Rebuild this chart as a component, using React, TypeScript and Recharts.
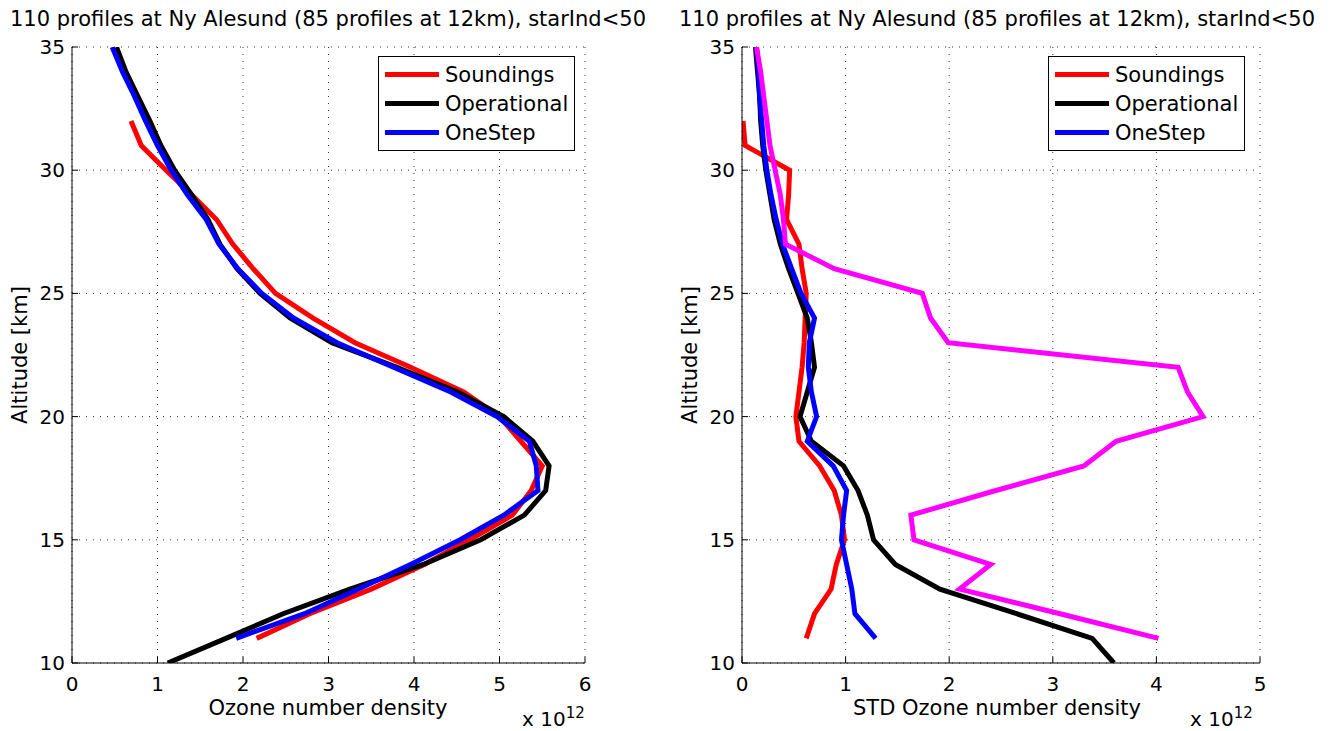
import React from "react";
import { LineChart, Line, XAxis, YAxis, CartesianGrid, Legend } from "recharts";

// altitude levels in km, top to bottom
const altitudes = [35, 34, 33, 32, 31, 30, 29, 28, 27, 26, 25, 24, 23, 22, 21, 20, 19, 18, 17, 16, 15, 14, 13, 12, 11, 10];

// left panel: mean ozone number density (x 10^12)
const soundingsMean = [null, null, null, 0.69, 0.81, 1.10, 1.40, 1.69, 1.88, 2.12, 2.38, 2.82, 3.31, 3.96, 4.58, 5.00, 5.25, 5.50, 5.37, 5.15, 4.65, 4.12, 3.50, 2.78, 2.16, null];
const operationalMean = [0.52, 0.63, 0.77, 0.91, 1.04, 1.20, 1.40, 1.59, 1.73, 1.93, 2.20, 2.55, 3.04, 3.80, 4.51, 5.05, 5.39, 5.58, 5.54, 5.29, 4.78, 4.11, 3.25, 2.47, 1.80, 1.12];
const oneStepMean = [0.47, 0.59, 0.73, 0.86, 1.00, 1.16, 1.35, 1.57, 1.72, 1.94, 2.22, 2.59, 3.10, 3.76, 4.43, 4.97, 5.35, 5.43, 5.45, 5.05, 4.54, 3.96, 3.35, 2.72, 1.92, null];

// right panel: STD of ozone number density (x 10^12)
const soundingsStd = [null, null, null, 0.01, 0.03, 0.46, 0.45, 0.43, 0.55, 0.58, 0.62, 0.61, 0.60, 0.58, 0.55, 0.52, 0.55, 0.75, 0.89, 0.96, 0.99, 0.91, 0.86, 0.70, 0.62, null];
const operationalStd = [0.13, 0.15, 0.17, 0.18, 0.20, 0.23, 0.27, 0.31, 0.37, 0.45, 0.54, 0.63, 0.67, 0.70, 0.63, 0.56, 0.67, 0.98, 1.12, 1.21, 1.27, 1.48, 1.91, 2.65, 3.38, 3.59];
const oneStepStd = [0.14, 0.16, 0.17, 0.19, 0.21, 0.24, 0.28, 0.33, 0.39, 0.48, 0.57, 0.70, 0.65, 0.64, 0.67, 0.72, 0.63, 0.88, 1.01, 0.98, 0.96, 1.01, 1.06, 1.09, 1.29, null];
const aprioriStd = [0.14, 0.18, 0.21, 0.24, 0.27, 0.32, 0.37, 0.40, 0.42, 0.89, 1.74, 1.82, 1.99, 4.21, 4.30, 4.45, 3.61, 3.30, 2.45, 1.63, 1.66, 2.40, 2.10, 3.07, 4.02, null];

const altTicks = [10, 15, 20, 25, 30, 35];
const leftTicks = [0, 1, 2, 3, 4, 5, 6];
const rightTicks = [0, 1, 2, 3, 4, 5];
const legendOrder = ["Soundings", "Operational", "OneStep"];

const title = "110 profiles at Ny Alesund (85 profiles at 12km), starInd<50";
const FONT = "'DejaVu Sans', sans-serif";

const leftData = altitudes.map((alt, i) => ({
  alt, soundings: soundingsMean[i], operational: operationalMean[i], onestep: oneStepMean[i],
}));
const rightData = altitudes.map((alt, i) => ({
  alt, soundings: soundingsStd[i], operational: operationalStd[i], onestep: oneStepStd[i], apriori: aprioriStd[i],
}));

// matlab style: ticks point into the box
const BottomTick = (p: any) => (
  <g>
    <line x1={p.x} x2={p.x} y1={p.y} y2={p.y - 6} stroke="#000" />
    <text x={p.x} y={p.y + 28} textAnchor="middle" fontSize={20} fill="#000" fontFamily={FONT}>{p.payload.value}</text>
  </g>
);
const TopTick = (p: any) => <line x1={p.x} x2={p.x} y1={p.y} y2={p.y + 6} stroke="#000" />;
const LeftTick = (p: any) => (
  <g>
    <line x1={p.x} x2={p.x + 6} y1={p.y} y2={p.y} stroke="#000" />
    <text x={p.x - 7} y={p.y + 7} textAnchor="end" fontSize={20} fill="#000" fontFamily={FONT}>{p.payload.value}</text>
  </g>
);
const RightTick = (p: any) => <line x1={p.x} x2={p.x - 6} y1={p.y} y2={p.y} stroke="#000" />;

const LegendBox = ({ payload }: any) => {
  const items = legendOrder
    .map((name) => (payload || []).find((e: any) => e.value === name))
    .filter(Boolean);
  return (
    <div style={{ border: "1px solid #000", background: "#fff", padding: "3px 4px 3px 6px", fontFamily: FONT, fontSize: 21 }}>
      {items.map((e: any) => (
        <div key={e.value} style={{ display: "flex", alignItems: "center", height: 29 }}>
          <span style={{ display: "inline-block", width: 54, height: 5, background: e.color, marginRight: 6 }} />
          <span>{e.value}</span>
        </div>
      ))}
    </div>
  );
};

function Panel({ data, ticks, xMax, withApriori }: any) {
  return (
    <LineChart
      layout="vertical"
      width={665}
      height={731}
      data={data}
      margin={{ top: 47, right: withApriori ? 75 : 80, bottom: 38, left: 0 }}
    >
      <CartesianGrid stroke="#333" strokeDasharray="1 6" />
      <XAxis type="number" domain={[0, xMax]} ticks={ticks} height={30} tickSize={0} tickMargin={0}
        axisLine={{ stroke: "#000" }} tickLine={false} tick={BottomTick} interval={0} allowDataOverflow />
      <XAxis xAxisId="top" orientation="top" type="number" domain={[0, xMax]} ticks={ticks} height={0} tickSize={0}
        tickMargin={0} axisLine={{ stroke: "#000" }} tickLine={false} tick={TopTick} interval={0} allowDataOverflow />
      <YAxis type="number" dataKey="alt" reversed domain={[10, 35]} ticks={altTicks} width={72} tickSize={0} tickMargin={0}
        axisLine={{ stroke: "#000" }} tickLine={false} tick={LeftTick} interval={0} allowDataOverflow />
      <YAxis yAxisId="right" orientation="right" type="number" reversed domain={[10, 35]} ticks={altTicks} width={0} tickSize={0}
        tickMargin={0} axisLine={{ stroke: "#000" }} tickLine={false} tick={RightTick} interval={0} allowDataOverflow />
      <Legend layout="vertical" align="center" verticalAlign="middle" content={LegendBox}
        wrapperStyle={{ left: withApriori ? 1048 - 670 : 378, top: 56, width: 197 }} />
      <Line name="Soundings" dataKey="soundings" stroke="#ff0000" strokeWidth={5} dot={false} isAnimationActive={false} />
      <Line name="Operational" dataKey="operational" stroke="#000000" strokeWidth={5} dot={false} isAnimationActive={false} />
      <Line name="OneStep" dataKey="onestep" stroke="#0000ff" strokeWidth={5} dot={false} isAnimationActive={false} />
      {withApriori && (
        <Line name="apriori" dataKey="apriori" stroke="#ff00ff" strokeWidth={5} dot={false} legendType="none" isAnimationActive={false} />
      )}
    </LineChart>
  );
}

export default function App() {
  const txt: React.CSSProperties = { position: "absolute", fontFamily: FONT, fontSize: 21, color: "#000", whiteSpace: "nowrap" };
  return (
    <div style={{ position: "absolute", left: 0, top: 0, width: 1331, height: 731, background: "#fff", overflow: "hidden" }}>
      <div style={{ position: "absolute", left: 0, top: 0 }}>
        <Panel data={leftData} ticks={leftTicks} xMax={6} />
      </div>
      <div style={{ position: "absolute", left: 670, top: 0 }}>
        <Panel data={rightData} ticks={rightTicks} xMax={5} withApriori />
      </div>

      <div style={{ ...txt, left: 328, top: 7, transform: "translateX(-50%)" }}>{title}</div>
      <div style={{ ...txt, left: 997, top: 7, transform: "translateX(-50%)" }}>{title}</div>

      <div style={{ ...txt, left: 328, top: 696, transform: "translateX(-50%)" }}>Ozone number density</div>
      <div style={{ ...txt, left: 997, top: 696, transform: "translateX(-50%)" }}>STD Ozone number density</div>

      <div style={{ ...txt, fontSize: 20, left: 522, top: 704 }}>x 10<sup style={{ fontSize: 15 }}>12</sup></div>
      <div style={{ ...txt, fontSize: 20, left: 1190, top: 704 }}>x 10<sup style={{ fontSize: 15 }}>12</sup></div>

      <div style={{ ...txt, left: 20, top: 355, transform: "translate(-50%, -50%) rotate(-90deg)" }}>Altitude [km]</div>
      <div style={{ ...txt, left: 690, top: 355, transform: "translate(-50%, -50%) rotate(-90deg)" }}>Altitude [km]</div>
    </div>
  );
}
